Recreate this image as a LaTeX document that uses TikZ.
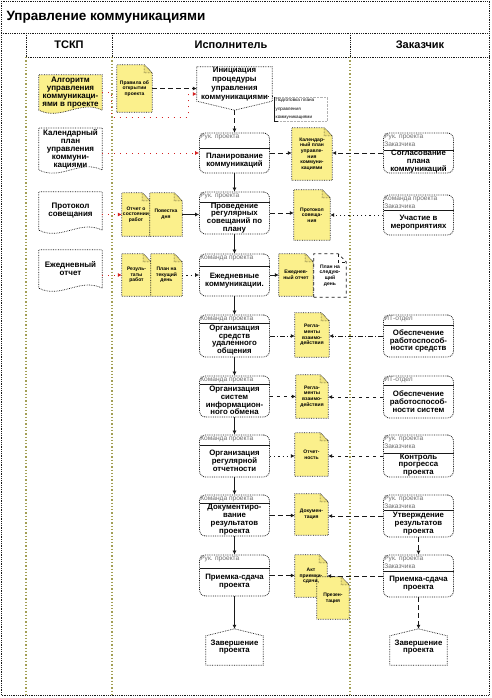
\documentclass[tikz,border=0pt]{standalone}
\usepackage{fontspec}
\setmainfont{Liberation Sans}
\usetikzlibrary{arrows.meta,positioning,calc,backgrounds}
\definecolor{ink}{HTML}{1A1A1A}
\definecolor{olive}{HTML}{A39F55}
\definecolor{paper}{HTML}{FBF08C}
\definecolor{foldy}{HTML}{EFE27C}
\definecolor{rolegray}{HTML}{6E6E6E}
\definecolor{redline}{HTML}{D42020}
\tikzset{>=Latex,frame/.style={ink,densely dotted,line width=.8pt},lane/.style={olive,dotted,line width=1.3pt},task/.style={draw=ink,densely dotted,line width=.8pt,rounded corners=6pt,fill=white,minimum width=70pt,inner sep=0pt},role/.style={anchor=north west,align=left,inner sep=1pt,text=rolegray,font=\fontsize{6.6}{7.8}\selectfont},tasktext/.style={align=center,inner sep=0pt,font=\fontsize{7.8}{7.8}\selectfont\bfseries},paperdoc/.style={align=center,inner sep=1pt,font=\fontsize{5}{5.6}\selectfont\bfseries},docline/.style={draw=ink,densely dotted,line width=.7pt,fill=paper},foldline/.style={draw=ink,densely dotted,line width=.5pt,fill=foldy},wavedoc/.style={align=center,inner sep=1pt,minimum width=63pt,font=\fontsize{8}{8}\selectfont\bfseries},flow/.style={-{Latex[length=4pt,width=4pt]},ink,line width=.7pt},dflow/.style={flow,dash pattern=on 5pt off 3pt},dotflow/.style={flow,dash pattern=on 1.2pt off 3pt},ddflow/.style={flow,dash pattern=on 5pt off 2pt on 1pt off 2pt},lflow/.style={flow,dash pattern=on 3pt off 4pt},redflow/.style={-{Latex[length=4pt,width=4pt]},redline,line width=.7pt,dash pattern=on 1pt off 5pt}}
% process box with a role lane on top
\newcommand{\lanetask}[7]{%
 \node[task,minimum height={(#4-#3)*1pt}] (#1) at (#2,{-(#3+#4)/2}) {};
 \draw[ink,line width=.7pt] (#2-35,-#5) -- (#2+35,-#5);
 \node[role] (#1-r) at (#1.north west) {#6};
 \node[tasktext] (#1-t) at (#2,{-(#5+#4)/2}) {#7};}

\begin{document}
\begin{tikzpicture}[x=1pt,y=1pt]
\useasboundingbox (0,0) rectangle (491,-698);
% frame and lanes
\draw[frame] (1,-1) rectangle (489,-695);
\draw[frame] (1,-33) -- (489,-33);
\draw[frame] (26,-57) -- (489,-57);
\foreach \x in {26,112,350} {\draw[frame] (\x,-33) -- (\x,-57); \draw[lane] (\x,-57) -- (\x,-694);}
\node[anchor=west,font=\fontsize{13.5}{14}\selectfont\bfseries] (title) at (3,-17) {Управление коммуникациями};
\node[font=\fontsize{11}{12}\selectfont\bfseries] (hTSKP) at (69,-45) {ТСКП};
\node[font=\fontsize{11}{12}\selectfont\bfseries] (hExec) at (231,-45) {Исполнитель};
\node[font=\fontsize{11}{12}\selectfont\bfseries] (hCust) at (420,-45) {Заказчик};

% ТСКП documents
\node[wavedoc,minimum height=35pt] (alg) at (70.5,-92.5) {Алгоритм\\управления\\коммуникаци-\\ями в проекте};
\node[wavedoc,minimum height=38pt] (calp) at (70.5,-149) {Календарный\\план\\управления\\коммуни-\\кациями};
\node[wavedoc,minimum height=38pt] (prot) at (70.5,-211) {Протокол\\совещания};
\node[wavedoc,minimum height=38pt] (dailydoc) at (70.5,-269) {Ежедневный\\отчет};

% start
\node[tasktext,minimum width=75pt,minimum height=34pt,font=\fontsize{7.8}{9}\selectfont\bfseries] (ini) at (234.5,-84) {Инициация\\процедуры\\управления\\коммуникациями};
\coordinate (initip) at ([yshift=-9pt]ini.south);
\node[anchor=north west,align=left,inner sep=1.5pt,draw=gray!60,densely dotted,font=\fontsize{4.6}{8.3}\selectfont,text width=50pt] (prep) at (274,-97) {Подготовка плана\\управления\\коммуникациями};
\draw[ink,line width=.6pt] (prep.north west) -- (prep.south west) -- ++(4,0);
\draw[ink,line width=1pt,dash pattern=on 1pt off 3pt] ([xshift=-8pt]ini.east |- prep.north) -- (prep.north west);

% executor
\lanetask{plan}{234.5}{133}{173}{148}{Рук. проекта}{Планирование\\коммуникаций}
\lanetask{meet}{234.5}{192}{234}{202}{Рук. проекта}{Проведение\\регулярных\\совещаний по\\плану}
\lanetask{daily}{234.5}{254}{296}{266}{Команда проекта}{Ежедневные\\коммуникации.}
\lanetask{remote}{234.5}{315}{357}{323}{Команда проекта}{Организация\\средств\\удаленного\\общения}
\lanetask{infox}{234.5}{376}{417}{384}{Команда проекта}{Организация\\систем\\информацион-\\ного обмена}
\lanetask{reptask}{234.5}{435}{477}{445}{Команда проекта}{Организация\\регулярной\\отчетности}
\lanetask{doctask}{234.5}{495}{536}{503}{Команда проекта}{Документиро-\\вание\\результатов\\проекта}
\lanetask{accept}{234.5}{555}{596}{568}{Рук. проекта}{Приемка-сдача\\проекта}

% customer
\lanetask{agree}{418.5}{133}{173}{150}{Рук. проекта\\Заказчика}{Согласование\\плана\\коммуникаций}
\lanetask{attend}{418.5}{195}{235}{210}{Команда проекта\\Заказчика}{Участие в\\мероприятиях}
\lanetask{itcomm}{418.5}{315}{357}{325}{ИТ-отдел}{Обеспечение\\работоспособ-\\ности средств}
\lanetask{itsys}{418.5}{376}{418}{385}{ИТ-отдел}{Обеспечение\\работоспособ-\\ности систем}
\lanetask{monitor}{418.5}{435}{477}{453}{Рук. проекта\\Заказчика}{Контроль\\прогресса\\проекта}
\lanetask{approve}{418.5}{495}{537}{510}{Рук. проекта\\Заказчика}{Утверждение\\результатов\\проекта}
\lanetask{handover}{418.5}{555}{597}{571}{Рук. проекта\\Заказчика}{Приемка-сдача\\проекта}

% finish
\node[tasktext,minimum width=57pt,minimum height=36pt] (fin1) at (234.5,-647) {Завершение\\проекта};
\node[tasktext,minimum width=57pt,minimum height=36pt] (fin2) at (418.5,-647) {Завершение\\проекта};

% paper documents
\node[paperdoc,minimum width=35pt,minimum height=47pt] (rules) at (134.5,-88.5) {Правила об\\открытии\\проекта};
\node[paperdoc,minimum width=40pt,minimum height=52pt] (calplan) at (312,-154) {Календар-\\ный план\\управле-\\ния\\коммуни-\\кациями};
\node[paperdoc,minimum width=28pt,minimum height=43pt] (report) at (136,-214.5) {Отчет о\\состоянии\\работ};
\node[paperdoc,minimum width=32pt,minimum height=43pt] (agenda) at (166,-214.5) {Повестка\\дня};
\node[paperdoc,minimum width=36pt,minimum height=50pt] (protocol) at (312,-215) {Протокол\\совеща-\\ния};
\node[paperdoc,minimum width=29pt,minimum height=42pt] (results) at (136.5,-275) {Резуль-\\таты\\работ};
\node[paperdoc,minimum width=31pt,minimum height=42pt] (dayplan) at (166.5,-275) {План на\\текущий\\день};
\node[paperdoc,minimum width=34pt,minimum height=42pt] (dailyrep) at (296,-275) {Ежеднев-\\ный отчет};
\node[paperdoc,minimum width=32pt,minimum height=43pt] (nextday) at (330,-275.5) {План на\\следую-\\щий\\день};
\node[paperdoc,minimum width=34pt,minimum height=44pt] (regl1) at (312,-335) {Регла-\\менты\\взаимо-\\действия};
\node[paperdoc,minimum width=32pt,minimum height=43pt] (regl2) at (312,-396.5) {Регла-\\менты\\взаимо-\\действия};
\node[paperdoc,minimum width=33pt,minimum height=43pt] (reporting) at (311.5,-454.5) {Отчет-\\ность};
\node[paperdoc,minimum width=33pt,minimum height=41pt] (docs) at (311.5,-514.5) {Докумен-\\тация};
\node[paperdoc,minimum width=32pt,minimum height=42pt] (act) at (311,-576) {Акт\\приемки-\\сдачи,};
\node[paperdoc,minimum width=32pt,minimum height=42pt] (pres) at (333,-598) {Презен-\\тация};

% connectors
\draw[dflow] (rules.east) -- (rules.east -| ini.west);
\draw[redflow] (alg.east) -- ++(9,0) |- (188,-117) |- ([yshift=-10pt]ini.west);
\draw[dflow] (initip) -- (plan.north);
\foreach \a/\b in {plan/meet,meet/daily,daily/remote,remote/infox,infox/reptask,reptask/doctask,doctask/accept}
  \draw[flow] (\a) -- (\b);
\draw[flow] (accept) -- (fin1.north);
\draw[dflow] (approve) -- (handover);
\draw[dflow] (handover) -- (fin2.north);
\draw[redflow] (calp.east |- plan.west) -- (plan.west);
\draw[redflow] (prot.east |- report.west) -- (report.west);
\draw[redflow] (dailydoc.east |- results.west) -- (results.west);
\draw[dflow] (plan.east) -- (plan.east -| calplan.west);
\draw[dflow] (agree.west) -- (agree.west -| calplan.east);
\draw[flow] (agenda.east) -- (agenda.east -| meet.west);
\draw[dflow] (meet.east) -- (meet.east -| protocol.west);
\draw[dotflow] (attend.west) -- (attend.west -| protocol.east);
\draw[dotflow] (dayplan.east) -- (dayplan.east -| daily.west);
\draw[flow] (daily.east) -- (daily.east -| dailyrep.west);
\draw[ddflow] (remote.east) -- (remote.east -| regl1.west);
\draw[ddflow] (itcomm.west) -- (itcomm.west -| regl1.east);
\draw[lflow] (infox.east) -- (infox.east -| regl2.west);
\draw[lflow] (itsys.west) -- (itsys.west -| regl2.east);
\draw[dotflow] (reptask.east) -- (reptask.east -| reporting.west);
\draw[lflow] (monitor.west) -- (monitor.west -| reporting.east);
\draw[dflow] (doctask.east) -- (doctask.east -| docs.west);
\draw[dflow] (approve.west) -- (approve.west -| docs.east);
\draw[dflow] (accept.east) -- (accept.east -| act.west);
\draw[dflow] (handover.west) -- (handover.west -| act.east);

% outlines behind the texts
\begin{scope}[on background layer]
\foreach \d/\fc in {alg/paper,calp/white,prot/white,dailydoc/white}
  \filldraw[draw=ink,densely dotted,line width=.7pt,fill=\fc] (\d.south west) -- (\d.north west) -- (\d.north east) -- (\d.south east) .. controls +(-22,11) and +(22,-11) .. (\d.south west) -- cycle;
\filldraw[draw=ink,densely dotted,line width=.7pt,fill=white] (ini.north west) -- (ini.north east) -- (ini.south east) -- (initip) -- (ini.south west) -- cycle;
\foreach \d in {fin1,fin2}
  \filldraw[draw=ink,densely dotted,line width=.7pt,fill=white] (\d.south west) -- ([yshift=-7pt]\d.north west) -- (\d.north) -- ([yshift=-7pt]\d.north east) -- (\d.south east) -- cycle;
\foreach \d in {rules,calplan,report,agenda,protocol,results,dayplan,dailyrep,regl1,regl2,reporting,docs,act,pres}
  {\filldraw[docline] (\d.south west) -- (\d.north west) -- ([xshift=-8pt]\d.north east) -- ([yshift=-8pt]\d.north east) -- (\d.south east) -- cycle;
   \filldraw[foldline] ([xshift=-8pt]\d.north east) -- ([xshift=-8pt,yshift=-8pt]\d.north east) -- ([yshift=-8pt]\d.north east) -- cycle;}
\filldraw[docline,fill=white,dashed] (nextday.south west) -- (nextday.north west) -- ([xshift=-8pt]nextday.north east) -- ([yshift=-8pt]nextday.north east) -- (nextday.south east) -- cycle;
\draw[ink,dashed,line width=.5pt] ([xshift=-8pt]nextday.north east) -- ([xshift=-8pt,yshift=-8pt]nextday.north east) -- ([yshift=-8pt]nextday.north east);
\end{scope}
\end{tikzpicture}
\end{document}
